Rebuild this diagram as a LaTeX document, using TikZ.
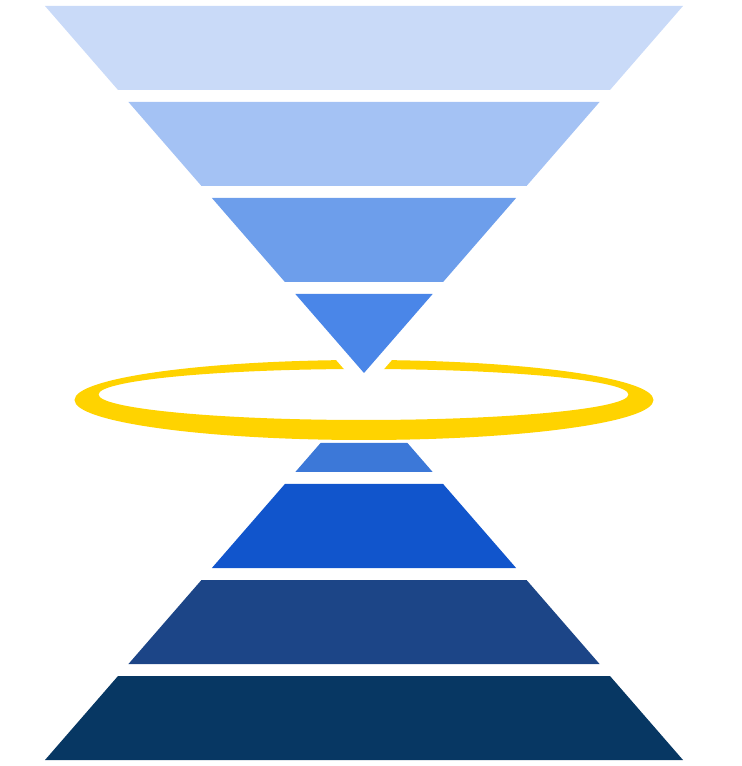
\documentclass[tikz,border=0pt]{standalone}
\usepackage{xcolor}
\usepackage{tikz}
\definecolor{hgpale}{HTML}{C9DAF8}
\definecolor{hglight}{HTML}{A4C2F4}
\definecolor{hgsky}{HTML}{6D9EEB}
\definecolor{hgmid}{HTML}{4A86E8}
\definecolor{hgdeep}{HTML}{3C78D8}
\definecolor{hgroyal}{HTML}{1155CC}
\definecolor{hgnavy}{HTML}{1C4587}
\definecolor{hgmidnight}{HTML}{073763}
\definecolor{hgyellow}{HTML}{FFD300}
\tikzset{
  band/.style={fill=#1,draw=none},
  halo/.style={fill=hgyellow,even odd rule},
  cutout/.style={preaction={draw=white,line width=0.5cm,line join=round}},
}

\begin{document}
\begin{tikzpicture}[x=0.02cm,y=0.02cm]
  \useasboundingbox (-364,-383) rectangle (378,383);
  \pgfmathsetmacro{\k}{319/367}
  % halo ring
  \fill[halo] (0,-17) ellipse [x radius=289.5,y radius=40]
              (-0.5,-11.5) ellipse [x radius=265,y radius=25.5];
  % funnel tip, cut out of the ring
  \fill[band=hgmid,cutout] (0,10) -- (-\k*79,89) -- (\k*79,89) -- cycle;
  % funnel
  \foreach \lo/\hi/\c in {101/185/hgsky,197/281/hglight,293/377/hgpale}
    {\fill[band=\c] (-\k*\lo+\k*10,\lo) -- (\k*\lo-\k*10,\lo) -- (\k*\hi-\k*10,\hi) -- (-\k*\hi+\k*10,\hi) -- cycle;}
  % pyramid
  \foreach \lo/\hi/\c in {60/89/hgdeep,101/185/hgroyal,197/281/hgnavy,293/377/hgmidnight}
    {\fill[band=\c] (-\k*\lo+\k*10,-\lo) -- (\k*\lo-\k*10,-\lo) -- (\k*\hi-\k*10,-\hi) -- (-\k*\hi+\k*10,-\hi) -- cycle;}
\end{tikzpicture}
\end{document}
